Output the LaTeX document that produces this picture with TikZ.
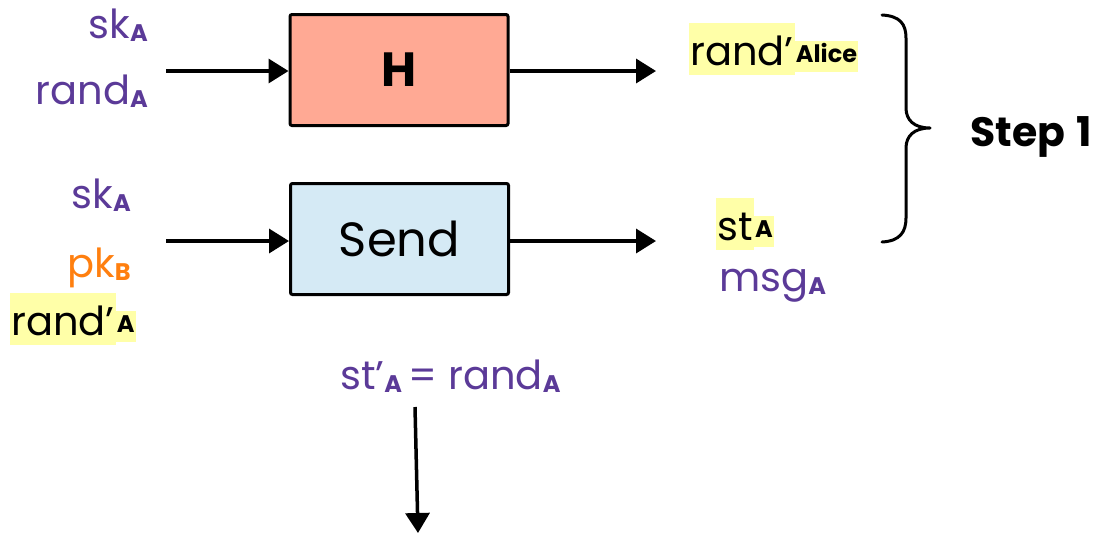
\documentclass[tikz,border=0pt]{standalone}
\usepackage{fontspec}
\setmainfont{Poppins}
\usetikzlibrary{arrows.meta}
\definecolor{purp}{HTML}{5B3A98}
\definecolor{orng}{HTML}{FF7F0F}
\definecolor{hly}{HTML}{FFFFA8}
\definecolor{hbox}{HTML}{FFA994}
\definecolor{sbox}{HTML}{D5EAF5}
% bold, slightly lowered index
\newcommand\ix[1]{\raisebox{-3pt}{\fontsize{24}{24}\selectfont\bfseries #1}}
\tikzset{
  lab/.style={inner sep=0pt, font=\fontsize{40}{48}\selectfont},
  hlmain/.style={lab, fill=hly, inner xsep=1pt, text height=42pt, text depth=10pt},
  hlsub/.style={inner xsep=1pt, inner ysep=0pt, fill=hly, text height=21pt, text depth=10pt,
                font=\fontsize{24}{24}\selectfont\bfseries},
  fbox/.style={draw, line width=3pt, rounded corners=2pt, minimum width=218pt, minimum height=111pt},
  flow/.style={line width=3.5pt, -{Triangle[length=20pt,width=24pt]}}
}
\begin{document}
\begin{tikzpicture}[x=1pt,y=-1pt]
\useasboundingbox (0,0) rectangle (1100,536);

% function boxes
\node[fbox, fill=hbox, font=\fontsize{48}{52}\selectfont\bfseries] (H) at (399,70) {H};
\node[fbox, fill=sbox, font=\fontsize{48}{52}\selectfont] (Send) at (399.5,239) {Send};

% inputs of H
\node[lab, text=purp, anchor=base east] (skA1) at (148,38) {sk\ix{A}};
\node[lab, text=purp, anchor=base east] (randA) at (148,104) {rand\ix{A}};

% inputs of Send
\node[lab, text=purp, anchor=base east] (skA2) at (131,208) {sk\ix{A}};
\node[lab, text=orng, anchor=base east] (pkB) at (131,277) {pk\ix{B}};
\node[hlmain, anchor=base west] (randpA) at (10,335) {rand’};
\node[hlsub, anchor=base west] (randpAi) at ([yshift=3pt]randpA.base east) {A};

% outputs
\node[hlmain, anchor=base west] (randAl) at (689,65) {rand’};
\node[hlsub, anchor=base west] (randAli) at ([yshift=3pt]randAl.base east) {Alice};
\node[hlmain, anchor=base west] (stA) at (716,240) {st};
\node[hlsub, anchor=base west] (stAi) at ([yshift=3pt]stA.base east) {A};
\node[lab, text=purp, anchor=base west] (msgA) at (719,291) {msg\ix{A}};

% state update
\node[lab, text=purp, anchor=base west] (upd) at (340,389) {st’\ix{A}\,= rand\ix{A}};

% arrows
\coordinate (inH) at (166,71);
\coordinate (inS) at (166,241);
\coordinate (outH) at (656,71);
\coordinate (outS) at (656,241);
\coordinate (down0) at (415,407);
\coordinate (down1) at (418,533);
\draw[flow] (inH) -- (H.west |- inH);
\draw[flow] (inS) -- (Send.west |- inS);
\draw[flow] (H.east |- outH) -- (outH);
\draw[flow] (Send.east |- outS) -- (outS);
\draw[flow] (down0) -- (down1);

% brace grouping the outputs
\coordinate (bt) at (882,15);
\coordinate (bm) at (930,128);
\coordinate (bb) at (882,242);
\draw[line width=3pt, line cap=round, line join=round]
  (bt) .. controls (900,16) and (906,24) .. (906,38)
  -- (906,108) .. controls (906,120) and (914,128) .. (bm)
  .. controls (914,128) and (906,136) .. (906,148)
  -- (906,218) .. controls (906,232) and (900,241) .. (bb);
\node[anchor=base west, inner sep=0pt, font=\fontsize{41}{44}\selectfont\bfseries] (step) at (970,146) {Step\hspace{3pt} 1};
\end{tikzpicture}
\end{document}
